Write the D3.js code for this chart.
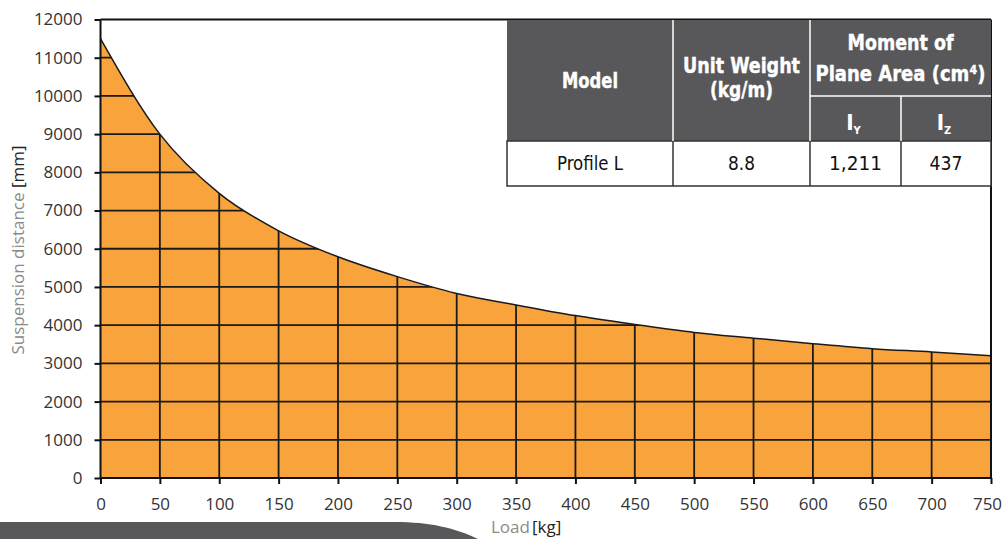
<!DOCTYPE html>
<html>
<head>
<meta charset="utf-8">
<script src="https://cdn.jsdelivr.net/npm/d3@7"></script>
<style>
  html, body { margin: 0; padding: 0; background: #fff; }
  svg { display: block; }
</style>
</head>
<body>
<svg id="chart" width="1004" height="539"></svg>
<script>
// ---- data ----
const loads = [0, 50, 100, 150, 200, 250, 300, 350, 400, 450, 500, 550, 600, 650, 700, 750];
const distances = [11500, 9000, 7450, 6470, 5790, 5270, 4830, 4530, 4250, 4020, 3810, 3660, 3515, 3385, 3300, 3200];
const xTicks = [0, 50, 100, 150, 200, 250, 300, 350, 400, 450, 500, 550, 600, 650, 700, 750];
const yTicks = [0, 1000, 2000, 3000, 4000, 5000, 6000, 7000, 8000, 9000, 10000, 11000, 12000];
const tableHeaders = ["Model", "Unit Weight", "(kg/m)", "Moment of", "Plane Area (cm\u2074)"];
const tableSubHeaders = ["Y", "Z"];
const tableRow = ["Profile L", "8.8", "1,211", "437"];

// ---- layout ----
const svg = d3.select("#chart");
const L = 100.5, R = 991, T = 19.5, B = 478;
const x = d3.scaleLinear().domain([0, 750]).range([L, R]);
const y = d3.scaleLinear().domain([0, 12000]).range([B, T]);
const orange = "#f8a33b";
const dark = "#58585a";
const tickFont = "'Open Sans', 'Segoe UI', sans-serif";
const condensed = "'Liberation Sans Narrow', 'DejaVu Sans Condensed', 'Roboto', sans-serif";

const pts = loads.map((l, i) => [l, distances[i]]);

const area = d3.area().x(d => x(d[0])).y0(y(0)).y1(d => y(d[1])).curve(d3.curveMonotoneX);
const line = d3.line().x(d => x(d[0])).y(d => y(d[1])).curve(d3.curveMonotoneX);

svg.append("defs").append("clipPath").attr("id", "areaClip")
  .append("path").attr("d", area(pts));

svg.append("path").attr("d", area(pts)).attr("fill", orange);

// grid clipped to area
const grid = svg.append("g").attr("clip-path", "url(#areaClip)")
  .attr("stroke", "#1a1a1a").attr("stroke-width", 1.8);
grid.selectAll("line.h").data(yTicks.slice(1, -1)).join("line").attr("class", "h")
  .attr("x1", L).attr("x2", R).attr("y1", d => y(d)).attr("y2", d => y(d));
grid.selectAll("line.v").data(xTicks.slice(1, -1)).join("line").attr("class", "v")
  .attr("x1", d => x(d)).attr("x2", d => x(d)).attr("y1", T).attr("y2", B);

svg.append("path").attr("d", line(pts)).attr("fill", "none")
  .attr("stroke", "#1a1a1a").attr("stroke-width", 1.5);

// frame (top and right)
svg.append("line").attr("x1", L).attr("x2", R).attr("y1", y(12000)).attr("y2", y(12000))
  .attr("stroke", "#111").attr("stroke-width", 2);
svg.append("line").attr("x1", R).attr("x2", R).attr("y1", y(12000)).attr("y2", y(0))
  .attr("stroke", "#111").attr("stroke-width", 2);

// axes
const yAxis = svg.append("g").attr("transform", `translate(${L},0)`)
  .call(d3.axisLeft(y).tickValues(yTicks).tickSize(6).tickPadding(12).tickFormat(d3.format("d")));
const xAxis = svg.append("g").attr("transform", `translate(0,${B})`)
  .call(d3.axisBottom(x).tickValues(xTicks).tickSize(6).tickPadding(14).tickFormat(d3.format("d")));
[yAxis, xAxis].forEach(g => {
  g.select(".domain").attr("stroke", "#111").attr("stroke-width", 2);
  g.selectAll(".tick line").attr("stroke", "#111").attr("stroke-width", 2);
  g.selectAll(".tick text").attr("fill", "#333").style("font-family", tickFont).style("font-size", "17px");
});
xAxis.select(".domain").attr("d", `M${L},0H${R}`);
yAxis.select(".domain").attr("d", `M0,${B}V${T}`);
// keep the last label inside the page edge
xAxis.selectAll(".tick text").filter(d => d === 750).attr("dx", -4);

// axis titles
const yt = svg.append("text").attr("transform", "translate(24,250) rotate(-90)")
  .attr("text-anchor", "middle").style("font-family", tickFont).style("font-size", "17px");
yt.append("tspan").attr("fill", "#8a8a8a").text("Suspension distance ");
yt.append("tspan").attr("fill", "#222").text("[mm]");

const xt = svg.append("text").attr("x", 491).attr("y", 533)
  .style("font-family", tickFont).style("font-size", "17px");
xt.append("tspan").attr("fill", "#8a8a8a").text("Load");
xt.append("tspan").attr("fill", "#222").attr("dx", 2).text("[kg]");

// bottom decoration
svg.append("path").attr("d", "M0,522 H395 C430,522 455,528 478,539 H0 Z").attr("fill", dark);

// ---- table ----
const cols = [507, 673, 810, 901, 991];
const rowsY = [20, 96, 141, 186];
const tg = svg.append("g");
tg.append("rect").attr("x", cols[0]).attr("y", rowsY[0]).attr("width", cols[4] - cols[0])
  .attr("height", rowsY[2] - rowsY[0]).attr("fill", dark);
tg.append("rect").attr("x", cols[0]).attr("y", rowsY[2]).attr("width", cols[4] - cols[0])
  .attr("height", rowsY[3] - rowsY[2]).attr("fill", "#fff").attr("stroke", "#333").attr("stroke-width", 1.5);
const sep = tg.append("g").attr("stroke", "#fff").attr("stroke-width", 1.5);
sep.append("line").attr("x1", cols[1]).attr("x2", cols[1]).attr("y1", rowsY[0]).attr("y2", rowsY[2]);
sep.append("line").attr("x1", cols[2]).attr("x2", cols[2]).attr("y1", rowsY[0]).attr("y2", rowsY[2]);
sep.append("line").attr("x1", cols[3]).attr("x2", cols[3]).attr("y1", rowsY[1]).attr("y2", rowsY[2]);
sep.append("line").attr("x1", cols[2]).attr("x2", cols[4]).attr("y1", rowsY[1]).attr("y2", rowsY[1]);
const sep2 = tg.append("g").attr("stroke", "#333").attr("stroke-width", 1.5);
[1, 2, 3].forEach(i => sep2.append("line").attr("x1", cols[i]).attr("x2", cols[i]).attr("y1", rowsY[2]).attr("y2", rowsY[3]));

const hdr = [
  { t: tableHeaders[0], cx: (cols[0] + cols[1]) / 2, by: 88, w: 56 },
  { t: tableHeaders[1], cx: (cols[1] + cols[2]) / 2, by: 73, w: 117 },
  { t: tableHeaders[2], cx: (cols[1] + cols[2]) / 2, by: 97, w: 63 },
  { t: tableHeaders[3], cx: (cols[2] + cols[4]) / 2, by: 50, w: 106 },
  { t: tableHeaders[4], cx: (cols[2] + cols[4]) / 2, by: 81, w: 170 }
];
tg.selectAll("text.hdr").data(hdr).join("text").attr("class", "hdr")
  .attr("x", d => d.cx).attr("y", d => d.by).attr("text-anchor", "middle")
  .attr("fill", "#fff").style("font-family", condensed).style("font-weight", "bold").style("font-size", "21px")
  .attr("stroke", "#fff").attr("stroke-width", 0.4)
  .attr("textLength", d => d.w).attr("lengthAdjust", "spacingAndGlyphs")
  .text(d => d.t);

tg.selectAll("text.sub").data(tableSubHeaders).join("text").attr("class", "sub")
  .attr("x", (d, i) => (cols[2 + i] + cols[3 + i]) / 2 - 2).attr("y", 130)
  .attr("text-anchor", "middle").attr("fill", "#fff")
  .style("font-family", condensed).style("font-weight", "bold").style("font-size", "22px")
  .call(t => {
    t.append("tspan").text("I");
    t.append("tspan").attr("dy", 4).style("font-size", "11px").text(d => d);
  });

const rowW = [66, 27, 53, 33];
tg.selectAll("text.cell").data(tableRow).join("text").attr("class", "cell")
  .attr("x", (d, i) => (cols[i] + cols[i + 1]) / 2).attr("y", 170)
  .attr("text-anchor", "middle").attr("fill", "#111")
  .style("font-family", condensed).style("font-size", "20px")
  .attr("textLength", (d, i) => rowW[i]).attr("lengthAdjust", "spacingAndGlyphs")
  .text(d => d);
</script>
</body>
</html>
